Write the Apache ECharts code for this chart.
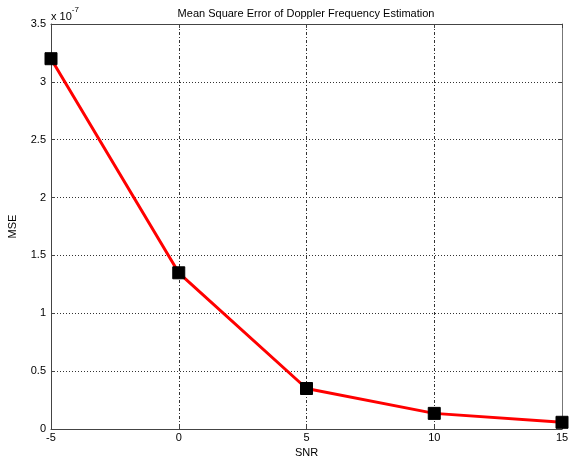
<!DOCTYPE html>
<html>
<head>
<meta charset="utf-8">
<script src="https://cdn.jsdelivr.net/npm/echarts@6/dist/echarts.min.js"></script>
<style>html,body{margin:0;padding:0;background:#fff}#c{width:571px;height:459px}</style>
</head>
<body>
<div id="c"></div>
<script>
const snr = [-5, 0, 5, 10, 15];
const mse = [3.20, 1.35, 0.35, 0.135, 0.058]; // in units of 1e-7
const xTicks = [-5, 0, 5, 10, 15];
const yTicks = [0, 0.5, 1, 1.5, 2, 2.5, 3, 3.5];

const chart = echarts.init(document.getElementById('c'));
const font = 'Liberation Sans, Arial, sans-serif';
const grid = {left: 51, right: 9, top: 24, bottom: 30, containLabel: false, outerBoundsMode: 'none'};
const gridLine = {show: true, lineStyle: {color: '#333', type: [1, 2], width: 1}};
chart.setOption({
  animation: false,
  backgroundColor: '#fff',
  title: {
    text: 'Mean Square Error of Doppler Frequency Estimation',
    left: 301, top: 3, textAlign: 'center',
    textStyle: {fontFamily: font, fontSize: 11, fontWeight: 'normal', color: '#000'}
  },
  graphic: [{
    type: 'text', left: 51, top: 6,
    style: {
      text: '{a|x 10}{b|-7}',
      rich: {
        a: {fontFamily: font, fontSize: 11, fill: '#000', padding: [5, 0, 0, 0]},
        b: {fontFamily: font, fontSize: 8, fill: '#000', verticalAlign: 'top'}
      }
    }
  }],
  grid: grid,
  xAxis: [{
    type: 'value', min: -5, max: 15, interval: 5,
    name: 'SNR', nameLocation: 'middle', nameGap: 15,
    nameTextStyle: {fontFamily: font, fontSize: 11, color: '#000'},
    axisLine: {show: true, onZero: false, lineStyle: {color: '#444', width: 1}},
    axisTick: {show: true, inside: true, length: 4, lineStyle: {color: '#444'}},
    axisLabel: {fontFamily: font, fontSize: 11, color: '#000', margin: 3,
      formatter: v => xTicks.includes(v) ? String(v) : ''},
    splitLine: {show: true, lineStyle: {color: '#333', type: [3, 2, 1, 2], width: 1}}
  }, {
    type: 'value', min: -5, max: 15, interval: 5, position: 'top',
    axisLine: {show: true, onZero: false, lineStyle: {color: '#444', width: 1}},
    axisTick: {show: true, inside: true, length: 4, lineStyle: {color: '#444'}},
    axisLabel: {show: false}, splitLine: {show: false}
  }],
  yAxis: [{
    type: 'value', min: 0, max: 3.5, interval: 0.5,
    name: 'MSE', nameLocation: 'middle', nameGap: 33,
    nameTextStyle: {fontFamily: font, fontSize: 11, color: '#000'},
    axisLine: {show: true, onZero: false, lineStyle: {color: '#444', width: 1}},
    axisTick: {show: true, inside: true, length: 4, lineStyle: {color: '#444'}},
    axisLabel: {fontFamily: font, fontSize: 11, color: '#000', margin: 5,
      formatter: v => { const t = yTicks.find(k => Math.abs(k - v) < 1e-9); return t === undefined ? '' : String(t); }},
    splitLine: gridLine
  }, {
    type: 'value', min: 0, max: 3.5, interval: 0.5, position: 'right',
    axisLine: {show: true, onZero: false, lineStyle: {color: '#777', width: 1}},
    axisTick: {show: true, inside: true, length: 4, lineStyle: {color: '#444'}},
    axisLabel: {show: false}, splitLine: {show: false}
  }],
  series: [{
    type: 'line',
    data: snr.map((x, i) => [x, mse[i]]),
    lineStyle: {color: '#ff0000', width: 3},
    symbol: 'rect', symbolSize: 12,
    itemStyle: {color: '#000', borderColor: '#000'},
    clip: false,
    z: 5
  }]
});
</script>
</body>
</html>
